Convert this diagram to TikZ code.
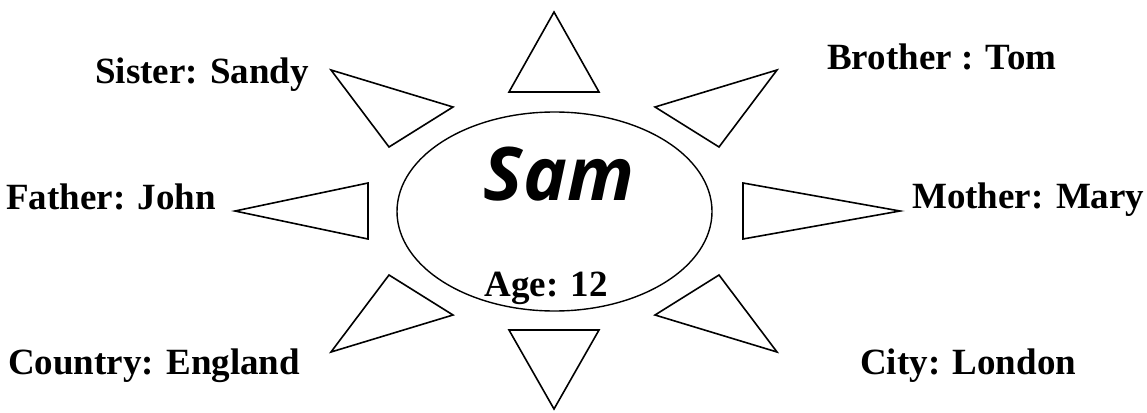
\documentclass[tikz,border=0pt]{standalone}
\usepackage{fontspec}
\setmainfont{Liberation Serif}
\newfontfamily\samfont{Open Sans}
\usetikzlibrary{positioning}

\tikzset{
  ray/.style={draw=black, line width=1.6pt, line join=miter},
  lbl/.style={font=\fontsize{37}{40}\selectfont\bfseries, inner sep=0pt},
}

\begin{document}
\begin{tikzpicture}[x=1pt, y=-1pt]
    \useasboundingbox (0,0) rectangle (1147,412);

    % Face
    \draw[line width=1.4pt] (554.5,211.5) ellipse [x radius=157.5, y radius=99.5];
    \node[font=\fontsize{74}{78}\selectfont\samfont\bfseries\itshape, inner sep=0pt, anchor=base] (sam) at (559,200) {Sam};
    \node[lbl, anchor=base] (age) at (546,296) {Age: 12};

    % Rays
    \draw[ray] (554,12) -- (509,92) -- (599,92) -- cycle;
    \draw[ray] (554,409) -- (509,330) -- (599,330) -- cycle;
    \draw[ray] (331,70) -- (453,107) -- (389,147) -- cycle;
    \draw[ray] (777,70) -- (655,107) -- (719,147) -- cycle;
    \draw[ray] (235,211) -- (368,183) -- (368,239) -- cycle;
    \draw[ray] (900,211) -- (743,183) -- (743,239) -- cycle;
    \draw[ray] (331,352) -- (453,315) -- (389,275) -- cycle;
    \draw[ray] (777,352) -- (655,315) -- (719,275) -- cycle;

    % Labels
    \node[lbl, anchor=base west] (sister) at (95,83) {Sister: Sandy};
    \node[lbl, anchor=base west] (brother) at (827,70) {Brother : Tom};
    \node[lbl, anchor=base west] (father) at (6,209) {Father: John};
    \node[lbl, anchor=base west] (mother) at (912,208) {Mother: Mary};
    \node[lbl, anchor=base west] (country) at (8,374) {Country: England};
    \node[lbl, anchor=base west] (city) at (860,374) {City: London};
\end{tikzpicture}
\end{document}
